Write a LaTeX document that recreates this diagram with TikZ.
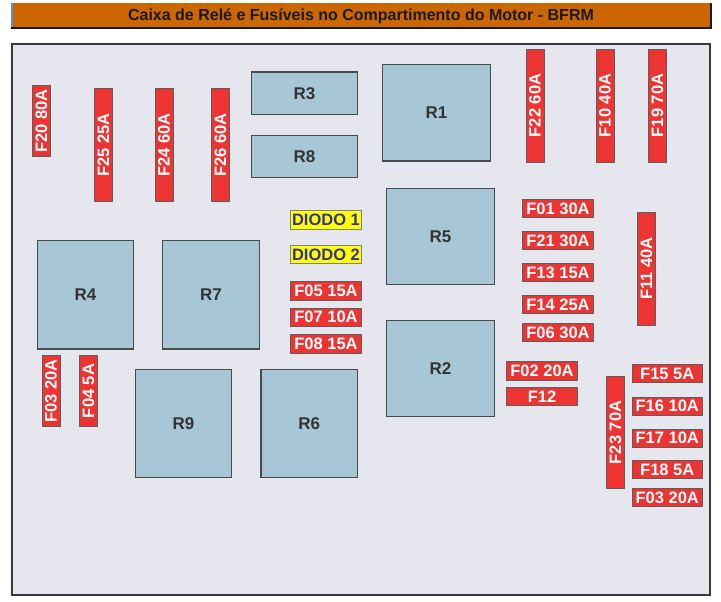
\documentclass[tikz,border=0pt]{standalone}
\usepackage{fontspec}
\setmainfont{Liberation Sans}
\definecolor{panelfill}{HTML}{E6E6EE}
\definecolor{panelline}{HTML}{3A3A3A}
\definecolor{relayfill}{HTML}{A7C7D7}
\definecolor{relayline}{HTML}{4A4A4A}
\definecolor{fusefill}{HTML}{EE3333}
\definecolor{fuseline}{HTML}{5E5E5E}
\definecolor{diodefill}{HTML}{FFFF00}
\definecolor{diodetext}{HTML}{333399}
\definecolor{titlefill}{HTML}{CC6600}
\definecolor{titleblue}{HTML}{4A8FE0}
\tikzset{
  base/.style={inner sep=0pt, outer sep=0pt, font=\fontsize{16.5}{16.5}\selectfont\bfseries},
  relay/.style={base, draw=relayline, line width=1.1pt, fill=relayfill, text=black!80, font=\fontsize{17}{17}\selectfont\bfseries},
  fuse/.style={base, draw=fuseline, line width=0.9pt, fill=fusefill, text=white},
  diode/.style={base, draw=black!50, line width=0.9pt, fill=diodefill, text=diodetext},
  vfuse/.style={fuse, rotate=90, minimum height=18pt},
  hfuse/.style={fuse, minimum width=71pt, minimum height=18pt},
  dim/.style args={#1/#2}{minimum width=#1pt, minimum height=#2pt},
}
\begin{document}
\begin{tikzpicture}[x=1pt,y=-1pt]
\useasboundingbox (0,0) rectangle (721,602);
% title bar
\fill[titlefill] (11,3.5) rectangle (710,28);
\fill[titleblue] (10.5,3.5) rectangle (13,28);
\draw[black!90, line width=2pt] (11,28.5) -- (711,28.5) -- (711,3.5);
\node[base, font=\fontsize{16}{16}\selectfont\bfseries, anchor=base, text=black!90] (title) at (361,21) {Caixa de Relé e Fusíveis no Compartimento do Motor - BFRM};
% panel
\draw[panelline, line width=2.5pt, fill=panelfill] (12,44) rectangle (710,595);
% relays
\node[relay, dim=106/42.5] (R3) at (304.5,93.25) {R3};
\node[relay, dim=106/42] (R8) at (304.5,156.5) {R8};
\node[relay, dim=108/96.5] (R1) at (436.5,112.75) {R1};
\node[relay, dim=108/96] (R5) at (440.5,236.5) {R5};
\node[relay, dim=108/96] (R2) at (440.5,368.5) {R2};
\node[relay, dim=96/108.5] (R4) at (85.5,294.75) {R4};
\node[relay, dim=97/108.5] (R7) at (211,294.75) {R7};
\node[relay, dim=96/108] (R9) at (183.5,423.5) {R9};
\node[relay, dim=96.5/108] (R6) at (309.25,423.5) {R6};
% vertical fuses
\node[vfuse, minimum width=71pt] (F20) at (41.5,121) {F20 80A};
\node[vfuse, minimum width=112.5pt] (F25) at (103.5,144.75) {F25 25A};
\node[vfuse, minimum width=112.5pt] (F24) at (164,144.75) {F24 60A};
\node[vfuse, minimum width=112.5pt] (F26) at (220.5,144.75) {F26 60A};
\node[vfuse, minimum width=113pt] (F22) at (535,105.5) {F22 60A};
\node[vfuse, minimum width=113pt] (F10) at (605,105.5) {F10 40A};
\node[vfuse, minimum width=113pt] (F19) at (657.5,105.5) {F19 70A};
\node[vfuse, minimum width=112.5pt] (F11) at (646.5,268.75) {F11 40A};
\node[vfuse, minimum width=112pt] (F23) at (615.5,432.5) {F23 70A};
\node[vfuse, minimum width=71pt] (F03a) at (51,391) {F03 20A};
\node[vfuse, minimum width=71pt] (F04) at (88.5,391) {F04 5A};
% horizontal fuses
\node[hfuse] (F01) at (558,208.5) {F01 30A};
\node[hfuse] (F21) at (558,240.5) {F21 30A};
\node[hfuse] (F13) at (558,272.5) {F13 15A};
\node[hfuse] (F14) at (558,304.5) {F14 25A};
\node[hfuse] (F06) at (558,332.5) {F06 30A};
\node[hfuse, minimum height=18.5pt] (F02) at (542,370.75) {F02 20A};
\node[hfuse] (F12) at (542,396.5) {F12};
\node[hfuse, minimum width=70.5pt] (F15) at (667.25,373.5) {F15 5A};
\node[hfuse, minimum width=70.5pt] (F16) at (667.25,406) {F16 10A};
\node[hfuse, minimum width=70.5pt] (F17) at (667.25,438) {F17 10A};
\node[hfuse, minimum width=70.5pt] (F18) at (667.25,469.5) {F18 5A};
\node[hfuse, minimum width=70.5pt] (F03b) at (667.25,497.5) {F03 20A};
\node[hfuse, minimum height=19pt] (F05) at (326,290.5) {F05 15A};
\node[hfuse, minimum height=18.5pt] (F07) at (326,317.25) {F07 10A};
\node[hfuse, minimum height=18.5pt] (F08) at (326,343.75) {F08 15A};
% diodes
\node[diode, dim=71/19] (D1) at (326,220) {DIODO 1};
\node[diode, dim=71/18] (D2) at (326,254.5) {DIODO 2};
\end{tikzpicture}
\end{document}
